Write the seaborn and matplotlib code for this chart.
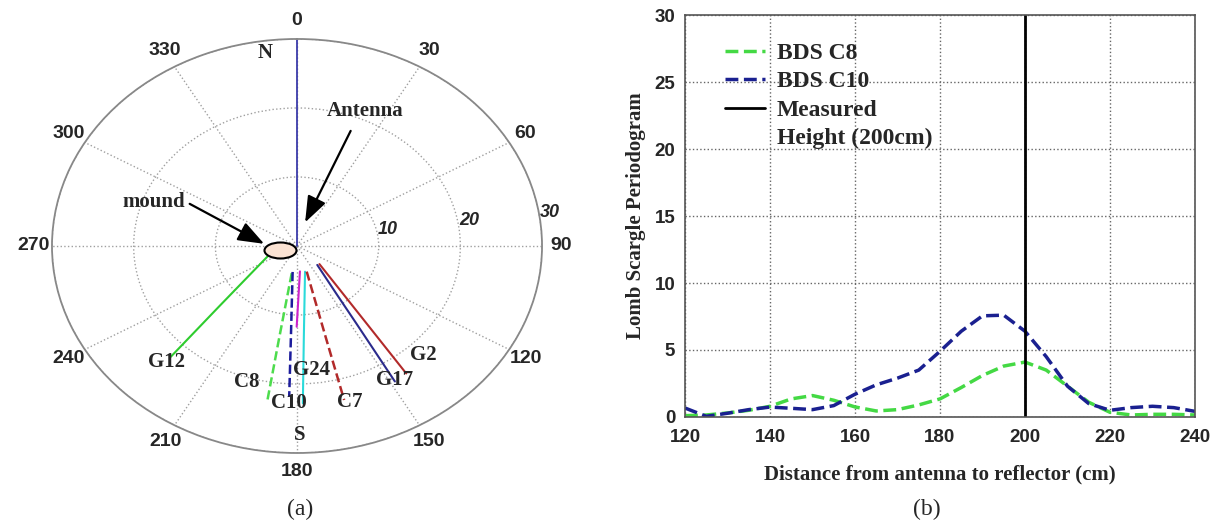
import numpy as np
import pandas as pd
import matplotlib
matplotlib.use("Agg")
import matplotlib.pyplot as plt
from matplotlib.patches import Ellipse
import seaborn as sns

# ---- panel (a): reflection point tracks (azimuth deg, radius) ----
track_names = ["G12", "C8", "C10", "G24m", "G24", "C7", "G17", "G2"]
track_az = {
    "G12": [246.9, 231.9, 227.4, 225.2, 223.9],
    "C8": [189.3, 189.3, 189.2],
    "C10": [188.1, 183.3, 182.5],
    "G24m": [174.4, 178.8, 180.2],
    "G24": [165.2, 176.4, 178.2],
    "C7": [162.3, 165.1, 165.5],
    "G17": [137.9, 145.2, 147.1, 148.6],
    "G2": [133.7, 140.6, 142.6, 144.1],
}
track_r = {
    "G12": [3.95, 8.4, 13.0, 17.6, 22.3],
    "C8": [4.0, 13.5, 23.1],
    "C10": [3.8, 12.8, 21.9],
    "G24m": [3.7, 7.7, 11.7],
    "G24": [3.85, 13.3, 22.8],
    "C7": [3.9, 13.5, 23.05],
    "G17": [3.7, 8.5, 13.35, 23.0],
    "G2": [3.8, 8.5, 13.25, 22.8],
}
track_color = {"G12": "#2ecc2e", "C8": "#4ddc4d", "C10": "#1c1c9c", "G24m": "#cc22cc",
               "G24": "#2adada", "C7": "#b22a2a", "G17": "#2b2b8c", "G2": "#b22a2a"}
track_style = {"G12": "-", "C8": "--", "C10": "--", "G24m": "-", "G24": "-",
               "C7": "--", "G17": "-", "G2": "-"}
north_az = [0, 0]
north_r = [0, 30]

theta_ticks = list(range(0, 360, 30))
r_ticks = [10, 20, 30]

# labels of panel (a), axes-fraction positions
label_text = ["N", "S", "G12", "C8", "C10", "G24", "C7", "G17", "G2"]
label_pos = [(0.435, 0.966), (0.505, 0.044), (0.233, 0.220), (0.397, 0.172),
             (0.484, 0.121), (0.530, 0.200), (0.608, 0.124), (0.700, 0.176), (0.757, 0.237)]

# ---- panel (b): Lomb Scargle periodogram ----
dist = [120, 125, 130, 135, 140, 145, 150, 155, 160, 165, 170, 175, 180,
        185, 190, 195, 200, 205, 210, 215, 220, 225, 230, 235, 240]
c8 = [0.1, 0.15, 0.3, 0.5, 0.8, 1.35, 1.6, 1.25, 0.75, 0.45, 0.55, 0.9, 1.35,
      2.2, 3.1, 3.8, 4.1, 3.5, 2.3, 1.1, 0.35, 0.15, 0.2, 0.2, 0.15]
c10 = [0.67, 0.05, 0.28, 0.55, 0.74, 0.65, 0.55, 0.85, 1.7, 2.4, 2.9, 3.5, 4.9,
       6.4, 7.55, 7.6, 6.4, 4.5, 2.3, 1.0, 0.5, 0.7, 0.8, 0.7, 0.42]
measured = 200

df = pd.DataFrame({"dist": dist, "c8": c8, "c10": c10})

sns.set_style("white")
plt.rcParams["font.family"] = ["Liberation Sans", "DejaVu Sans"]
serif = ["Liberation Serif", "DejaVu Serif"]

fig = plt.figure(figsize=(12.23, 5.31), dpi=100)

# ---------------- polar panel ----------------
ax1 = fig.add_axes([0.0425, 0.1469, 0.4007, 0.7797], projection="polar")
ax1.set_aspect("auto")
ax1.set_theta_zero_location("N")
ax1.set_theta_direction(-1)

ax1.plot(np.deg2rad(north_az), north_r, color="#3c3caa", lw=1.3)
for name in track_names:
    sns.lineplot(x=np.deg2rad(track_az[name]), y=track_r[name], ax=ax1,
                 color=track_color[name], linestyle=track_style[name],
                 lw=1.8 if track_style[name] == "--" else 1.5,
                 sort=False, estimator=None)

ax1.set_rlim(0, 30)
ax1.set_xticks(np.deg2rad(theta_ticks))
ax1.set_xticklabels([str(t) for t in theta_ticks], fontsize=14, fontweight="bold")
ax1.tick_params(axis="x", pad=3)
ax1.set_yticks(r_ticks)
ax1.set_yticklabels([str(t) for t in r_ticks], fontsize=13,
                    fontstyle="italic", fontweight="bold")
ax1.set_rlabel_position(83)
ax1.grid(True, linestyle=":", color="#a0a0a0", lw=1.0)
ax1.spines["polar"].set_color("#888888")
ax1.spines["polar"].set_linewidth(1.3)
ax1.set_xlabel("")
ax1.set_ylabel("")

ax1.add_patch(Ellipse((0.4663, 0.4891), 32 / 490, 16 / 414, transform=ax1.transAxes,
                      facecolor="#fbe3d3", edgecolor="black", lw=1.5, zorder=5,
                      clip_on=False))
for txt, (x, y) in zip(label_text, label_pos):
    ax1.text(x, y, txt, transform=ax1.transAxes, ha="center", va="center",
             fontsize=15, fontweight="bold", family=serif)

arrow = dict(arrowstyle="-|>,head_length=1.6,head_width=0.6", color="black", lw=1.6)
ax1.annotate("", xy=(0.438, 0.502), xytext=(0.276, 0.605),
             xycoords="axes fraction", textcoords="axes fraction", arrowprops=arrow)
ax1.text(0.207, 0.607, "mound", transform=ax1.transAxes, ha="center", va="center",
         fontsize=15, fontweight="bold", family=serif)
ax1.annotate("", xy=(0.514, 0.551), xytext=(0.612, 0.784),
             xycoords="axes fraction", textcoords="axes fraction", arrowprops=arrow)
ax1.text(0.639, 0.827, "Antenna", transform=ax1.transAxes, ha="center", va="center",
         fontsize=15, fontweight="bold", family=serif)

# ---------------- periodogram panel ----------------
ax2 = fig.add_axes([0.5601, 0.2147, 0.417, 0.757])
sns.lineplot(data=df, x="dist", y="c8", ax=ax2, color="#44d944", lw=2.5,
             linestyle="--", label="BDS C8")
sns.lineplot(data=df, x="dist", y="c10", ax=ax2, color="#1a2090", lw=2.5,
             linestyle="--", label="BDS C10")
ax2.axvline(measured, color="black", lw=2, label="Measured")
ax2.plot([], [], color="none", label="Height (200cm)")

ax2.set_xlim(120, 240)
ax2.set_ylim(0, 30)
ax2.set_xticks(range(120, 241, 20))
ax2.set_yticks(range(0, 31, 5))
ax2.tick_params(direction="in", length=4, labelsize=13.5)
ax2.tick_params(axis="x", pad=9)
ax2.tick_params(axis="y", pad=7)
for lab in ax2.get_xticklabels() + ax2.get_yticklabels():
    lab.set_fontweight("bold")
ax2.grid(True, linestyle=":", color="#666666", lw=1.0)
for sp in ax2.spines.values():
    sp.set_color("#555555")
    sp.set_linewidth(1.2)
ax2.set_xlabel("Distance from antenna to reflector (cm)", fontsize=15,
               fontweight="bold", family=serif, labelpad=13)
ax2.set_ylabel("Lomb Scargle Periodogram", fontsize=15, fontweight="bold",
               family=serif, labelpad=6)
ax2.legend(loc="upper left", bbox_to_anchor=(0.06, 0.955), borderaxespad=0,
           frameon=False, handlelength=1.7, handletextpad=0.5, labelspacing=0.29,
           prop={"family": serif, "weight": "bold", "size": 17})

fig.text(0.2453, 0.04, "(a)", ha="center", va="center", fontsize=17, family=serif)
fig.text(0.758, 0.04, "(b)", ha="center", va="center", fontsize=17, family=serif)

fig.savefig("out.png", dpi=100)
